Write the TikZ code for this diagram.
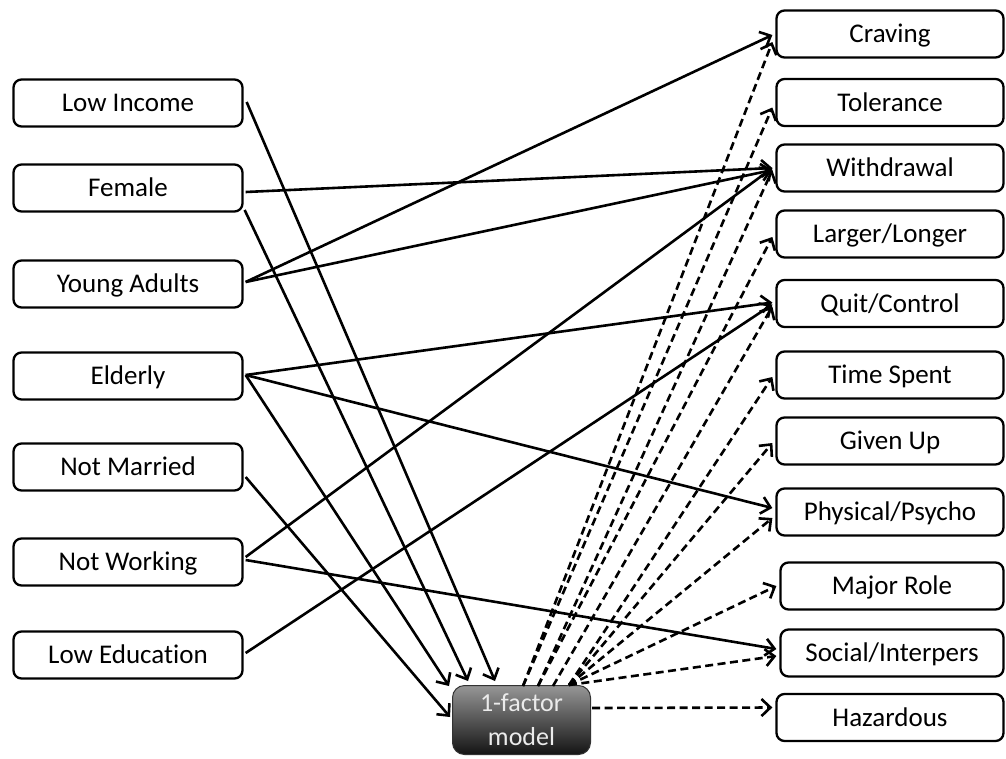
\documentclass[tikz,border=0pt]{standalone}
\usepackage{fontspec}
\setmainfont{Carlito}[Ligatures=NoCommon]
\usetikzlibrary{arrows.meta,calc}
\begin{document}
\begin{tikzpicture}[x=1pt,y=-1pt,
  box/.style={draw, line width=2.3pt, rounded corners=8pt, minimum width=229pt, minimum height=47pt, inner sep=0pt, text height=22pt, text depth=5pt, font=\fontsize{27}{31}\selectfont},
  rbox/.style={box, minimum width=227pt},
  conn/.style={line width=2.6pt, -{Straight Barb[length=9pt,width=17pt]}},
  dconn/.style={conn, dash pattern=on 8pt off 4.5pt}]
\useasboundingbox (0,0) rectangle (1006,758);
% left nodes
\node[box] (low) at (128,103) {Low Income};
\node[box] (female) at (128,188) {Female};
\node[box] (young) at (128,284) {Young Adults};
\node[box] (elderly) at (128,376) {Elderly};
\node[box] (married) at (128,467) {Not Married};
\node[box] (working) at (128,562) {Not Working};
\node[box] (edu) at (128,655) {Low Education};
% right nodes
\node[rbox] (craving) at (890,34) {Craving};
\node[rbox] (tolerance) at (890,102.5) {Tolerance};
\node[rbox] (withdrawal) at (890,168) {Withdrawal};
\node[rbox] (larger) at (890,234) {Larger/Longer};
\node[rbox] (quit) at (890,303.5) {Quit/Control};
\node[rbox] (time) at (890,375) {Time Spent};
\node[rbox] (given) at (890,441) {Given Up};
\node[rbox] (physical) at (890,512) {Physical/Psycho};
\node[rbox, minimum width=223pt] (major) at (892,586) {Major Role};
\node[rbox, minimum width=223pt] (social) at (892,653) {Social/Interpers};
\node[rbox] (hazardous) at (890,717.5) {Hazardous};
% model
\node[draw=black!80, line width=1pt, rounded corners=12pt, minimum width=138pt, minimum height=69pt,
      top color={rgb,255:red,150;green,150;blue,150}, bottom color={rgb,255:red,20;green,20;blue,20},
      text={rgb,255:red,235;green,235;blue,235}, align=center, inner sep=0pt,
      font=\fontsize{26}{34}\selectfont] (model) at (521.5,720) {\raisebox{-3pt}{1-factor}\\\raisebox{-3pt}{model}};
% targets on model
\coordinate (mLow) at ($(model.north west)+(43,-4)$);
\coordinate (mFem) at ($(model.north west)+(16,-4)$);
\coordinate (mEld) at ($(model.north west)+(-3,1)$);
\coordinate (mMar) at ($(model.west)+(-2,-3)$);
% dashed origins
\coordinate (d1) at ($(model.north west)+(71,1)$);
\coordinate (d2) at ($(model.north west)+(86,1)$);
\coordinate (d3) at ($(model.north west)+(101,1)$);
\coordinate (d4) at ($(model.north west)+(117,0)$);
% solid connectors
\draw[conn] ($(low.east)+(3,-1)$) -- (mLow);
\draw[conn] ($(female.east)+(2,4)$) -- ($(withdrawal.west)+(-3,0)$);
\draw[conn] ($(female.east)+(1,22)$) -- (mFem);
\draw[conn] ($(young.east)+(2,-2)$) -- ($(craving.west)+(-3,1)$);
\draw[conn] ($(young.east)+(2,-2)$) -- ($(withdrawal.west)+(-3,2)$);
\draw[conn] ($(elderly.east)+(2,-1)$) -- ($(quit.west)+(-3,-1)$);
\draw[conn] ($(elderly.east)+(2,-1)$) -- ($(physical.west)+(-3,-4)$);
\draw[conn] ($(elderly.east)+(2,-1)$) -- (mEld);
\draw[conn] ($(married.east)+(2,10)$) -- (mMar);
\draw[conn] ($(working.east)+(2,-5)$) -- ($(withdrawal.west)+(-3,0)$);
\draw[conn] ($(working.east)+(2,-2)$) -- ($(social.west)+(-3,-4)$);
\draw[conn] ($(edu.east)+(2,-2)$) -- ($(quit.west)+(-3,1)$);
% dashed connectors
\draw[dconn] (d1) -- ($(craving.west)+(-3,8)$);
\draw[dconn] (d1) -- ($(tolerance.west)+(-3,5)$);
\draw[dconn] (d2) -- ($(withdrawal.west)+(-3,2)$);
\draw[dconn] (d2) -- ($(larger.west)+(-3,3)$);
\draw[dconn] (d3) -- ($(quit.west)+(-3,3)$);
\draw[dconn] (d4) -- ($(time.west)+(-3,2)$);
\draw[dconn] (d4) -- ($(given.west)+(-3,2)$);
\draw[dconn] (d4) -- ($(physical.west)+(-3,6)$);
\draw[dconn] (d4) -- ($(major.west)+(-3,0)$);
\draw[dconn] (d4) -- ($(social.west)+(-3,3)$);
\draw[dconn] ($(model.east)+(1,-12)$) -- ($(hazardous.west)+(-3,-10)$);
\end{tikzpicture}
\end{document}
